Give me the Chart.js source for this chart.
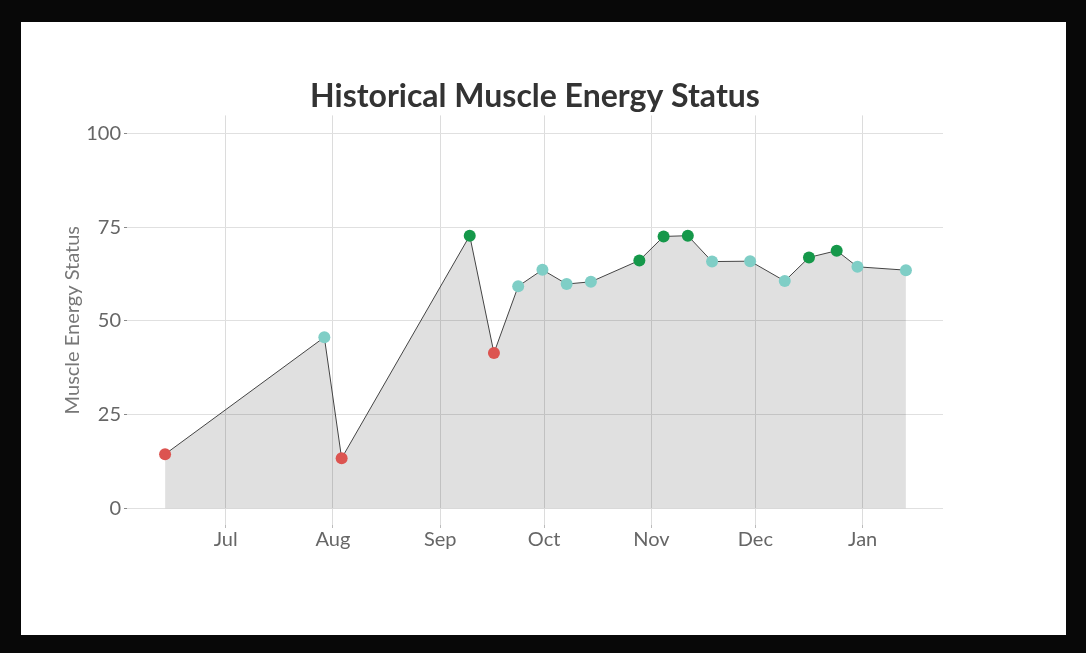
<!DOCTYPE html>
<html lang="en">
<head>
  <meta charset="UTF-8" />
  <title>Historical Muscle Energy Status</title>
  <script src="https://cdn.jsdelivr.net/npm/chart.js"></script>
  <style>
    html, body { margin: 0; padding: 0; background: #080808; width: 1086px; height: 653px; overflow: hidden; }
    #card { position: absolute; left: 21px; top: 22px; width: 1045px; height: 613px; background: #fff; }
  </style>
</head>
<body>

  <div id="card">
    <canvas id="energyChart" width="1045" height="613"></canvas>
  </div>

  <script>
    // readings (dates + status values)
    const readingDates = [
      "2023-06-13", "2023-07-29", "2023-08-03", "2023-09-09", "2023-09-16",
      "2023-09-23", "2023-09-30", "2023-10-07", "2023-10-14", "2023-10-28",
      "2023-11-04", "2023-11-11", "2023-11-18", "2023-11-29", "2023-12-09",
      "2023-12-16", "2023-12-24", "2023-12-30", "2024-01-13"
    ];
    const energyValues = [
      14.4, 45.6, 13.3, 72.7, 41.4,
      59.2, 63.6, 59.8, 60.4, 66.1,
      72.5, 72.7, 65.8, 65.9, 60.6,
      66.9, 68.7, 64.4, 63.5
    ];
    const energyLevels = [
      "low", "mid", "low", "high", "low",
      "mid", "mid", "mid", "mid", "high",
      "high", "high", "mid", "mid", "mid",
      "high", "high", "mid", "mid"
    ];

    // axis ticks
    const monthTickDates = ["2023-07-01", "2023-08-01", "2023-09-01", "2023-10-01", "2023-11-01", "2023-12-01", "2024-01-01"];
    const monthTickLabels = ["Jul", "Aug", "Sep", "Oct", "Nov", "Dec", "Jan"];
    const yTickValues = [0, 25, 50, 75, 100];

    const levelColors = { low: "#dc5450", mid: "#7fcec6", high: "#15984a" };

    const toMs = d => Date.parse(d + "T12:00:00Z");
    const tickMs = monthTickDates.map(d => Date.parse(d + "T00:00:00Z"));

    const points = readingDates.map((d, i) => ({ x: toMs(d), y: energyValues[i] }));

    const tickFont = { family: "Lato", size: 20 };

    new Chart(document.getElementById("energyChart"), {
      type: "line",
      data: {
        datasets: [{
          data: points,
          borderColor: "#444",
          borderWidth: 1,
          tension: 0,
          fill: "origin",
          backgroundColor: "rgba(0,0,0,0.12)",
          pointRadius: 6,
          pointHoverRadius: 6,
          pointBorderWidth: 0,
          pointBackgroundColor: energyLevels.map(l => levelColors[l]),
          pointBorderColor: energyLevels.map(l => levelColors[l])
        }]
      },
      options: {
        responsive: false,
        animation: false,
        events: [],
        layout: { padding: { left: 0, right: 123, top: 0, bottom: 50 } },
        plugins: {
          legend: { display: false },
          tooltip: { enabled: false },
          title: {
            display: true,
            text: "Historical Muscle Energy Status",
            fullSize: false,
            color: "#333",
            font: { family: "Lato", size: 32, weight: "bold" },
            padding: { top: 55, bottom: 0 }
          }
        },
        scales: {
          x: {
            type: "linear",
            min: Date.parse("2023-06-02T12:00:00Z"),
            max: Date.parse("2024-01-24T05:00:00Z"),
            afterBuildTicks: s => { s.ticks = tickMs.map(v => ({ value: v })); },
            afterFit: s => { s.height = 60; },
            border: { display: false },
            grid: { color: "#dcdcdc", lineWidth: 1, tickLength: 3, tickColor: "#bbb" },
            ticks: {
              color: "#666",
              font: tickFont,
              padding: 0,
              maxRotation: 0,
              autoSkip: false,
              callback: v => monthTickLabels[tickMs.indexOf(v)]
            }
          },
          y: {
            min: -4.5,
            max: 104.8,
            afterBuildTicks: s => { s.ticks = yTickValues.map(v => ({ value: v })); },
            afterFit: s => { s.width = 106; },
            border: { display: false },
            grid: { color: "#e0e0e0", lineWidth: 1, tickLength: 3, tickColor: "#888" },
            ticks: { color: "#666", font: tickFont, padding: 3 },
            title: {
              display: true,
              text: "Muscle Energy Status",
              color: "#777",
              font: { family: "Lato", size: 20 },
              padding: { top: 40, bottom: 0 }
            }
          }
        }
      }
    });
  </script>
</body>
</html>
